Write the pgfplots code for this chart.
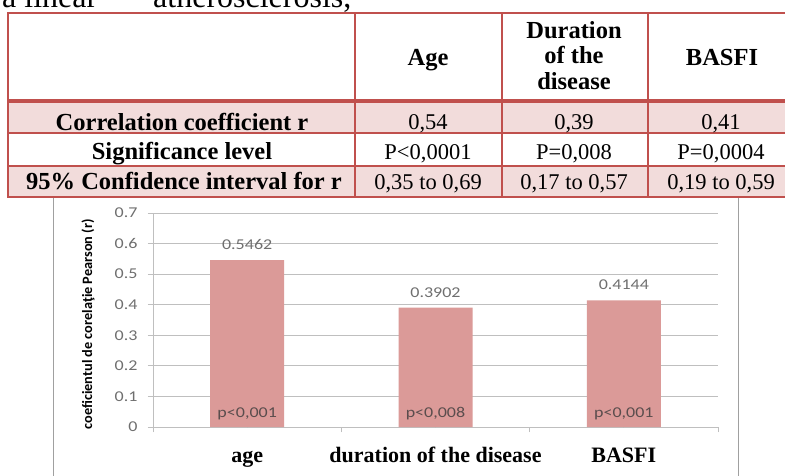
\documentclass[border=0pt]{standalone}
\usepackage{fontspec}
\setmainfont{Liberation Serif}
\newfontfamily\calx{Carlito}[FakeStretch=1.2]
\newfontfamily\carb{Carlito}
\usepackage{pgfplots}
\pgfplotsset{compat=1.18}
\definecolor{tblred}{HTML}{C0504D}
\definecolor{tblpink}{HTML}{F2DCDB}
\definecolor{barpink}{HTML}{DB9A98}
\definecolor{gridgray}{HTML}{BFBFBF}
\definecolor{txtgray}{HTML}{6F6F6F}
\definecolor{ptext}{HTML}{5A4D4D}
\definecolor{framegray}{HTML}{A0A0A0}
\newcommand\hb{\bfseries\fontsize{24.5}{26}\selectfont}
\newcommand\vr{\fontsize{22.5}{24}\selectfont}
\begin{document}
\begin{tikzpicture}
\useasboundingbox (0,0) rectangle (785pt,-475pt);
\begin{scope}[x=1pt,y=-1pt]
  \fill[white] (0,0) rectangle (785,475);
  \draw[framegray, line width=1pt] (53,480) -- (53,197) -- (738,197) -- (738,480);
\end{scope}
\begin{axis}[
  at={(153pt,-427pt)}, anchor=south west,
  scale only axis, width=565pt, height=214pt,
  xmin=-0.5, xmax=2.5, ymin=0, ymax=0.7,
  axis lines*=left,
  axis line style={gridgray, line width=1pt},
  tick align=outside, major tick length=5pt,
  tick style={gridgray, line width=0.8pt},
  ytick={0,0.1,0.2,0.3,0.4,0.5,0.6,0.7},
  yticklabels={0,0.1,0.2,0.3,0.4,0.5,0.6,0.7},
  yticklabel style={font=\calx\fontsize{15}{16}\selectfont, text=txtgray, xshift=-7pt},
  ymajorgrids, grid style={gridgray, line width=0.8pt},
  xtick={-0.5,0.5,1.5,2.5}, xticklabels={,,,,},
  extra x ticks={0,1,2},
  extra x tick labels={age, duration of the disease, BASFI},
  extra x tick style={major tick length=0pt, xticklabel style={font=\bfseries\fontsize{22}{24}\selectfont, text=black, anchor=base, yshift=-35pt}},
  ylabel={coeficientul de corelaţie Pearson (r)},
  ylabel style={font=\carb\bfseries\fontsize{14.3}{16}\selectfont, at={(axis description cs:-0.115,0.48)}, anchor=center},
  clip=false,
]
\addplot[ybar, bar width=74pt, fill=barpink, draw=none,
  point meta=explicit symbolic, nodes near coords,
  nodes near coords style={font=\calx\fontsize{15}{17}\selectfont, text=txtgray, anchor=south, yshift=7pt}]
  coordinates {(0,0.5462) [0.5462] (1,0.3902) [0.3902] (2,0.4144) [0.4144]};
\addplot[only marks, mark=*, mark size=0pt, mark options={draw=none, fill=none},
  point meta=explicit symbolic, nodes near coords,
  nodes near coords style={font=\calx\fontsize{15}{17}\selectfont, text=ptext, anchor=base, yshift=10pt}]
  table[x=x, y=y, meta=lab] {
x y lab
0 0 p<0,001
1 0 p<0,008
2 0 p<0,001
};
\end{axis}
\begin{scope}[x=1pt,y=-1pt]
  \begin{scope}
    \clip (0,0) rectangle (785,475);
    \node[anchor=base west, inner sep=0, font=\fontsize{32}{36}\selectfont] at (2,7) {a linear};
    \node[anchor=base west, inner sep=0, font=\fontsize{32}{36}\selectfont] at (153,7) {atherosclerosis,};
  \end{scope}
  \fill[tblpink] (8,102) rectangle (790,133);
  \fill[tblpink] (8,166) rectangle (790,197);
  \draw[tblred, line width=2pt] (8,133)--(790,133) (8,166)--(790,166);
  \draw[tblred, line width=2pt] (355,13)--(355,197) (502,13)--(502,197) (648,13)--(648,197);
  \draw[tblred, line width=4pt] (8,101)--(790,101);
  \draw[tblred, line width=2.5pt] (790,13)--(8,13)--(8,197)--(790,197);
  % header
  \node[anchor=base, font=\hb] at (428,65) {Age};
  \node[anchor=base, font=\hb] at (574,38) {Duration};
  \node[anchor=base, font=\hb] at (574,63.5) {of the};
  \node[anchor=base, font=\hb] at (574,89.5) {disease};
  \node[anchor=base, font=\hb] at (722,65) {BASFI};
  % rows
  \node[anchor=base, font=\hb] at (182,130) {Correlation coefficient r};
  \node[anchor=base, font=\hb] at (182,159.3) {Significance level};
  \node[anchor=base, font=\hb] at (184,189.5) {95\% Confidence interval for r};
  \node[anchor=base, font=\vr] at (428,129) {0,54};
  \node[anchor=base, font=\vr] at (574,129) {0,39};
  \node[anchor=base, font=\vr] at (721,129) {0,41};
  \node[anchor=base, font=\vr] at (428,159) {P<0,0001};
  \node[anchor=base, font=\vr] at (574,159) {P=0,008};
  \node[anchor=base, font=\vr] at (721,159) {P=0,0004};
  \node[anchor=base, font=\vr] at (428,189) {0,35 to 0,69};
  \node[anchor=base, font=\vr] at (574,189) {0,17 to 0,57};
  \node[anchor=base, font=\vr] at (721,189) {0,19 to 0,59};
\end{scope}
\end{tikzpicture}
\end{document}
